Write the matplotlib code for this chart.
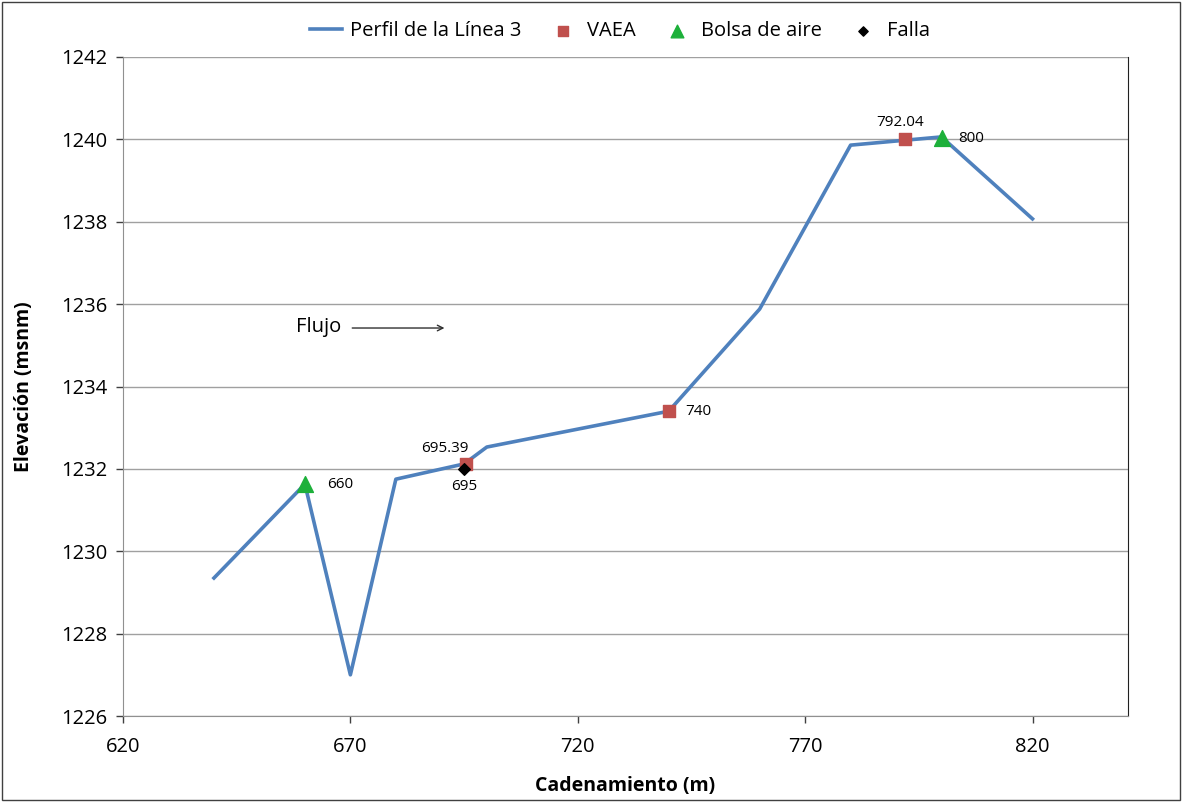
import matplotlib
matplotlib.use("Agg")
import matplotlib.pyplot as plt
from matplotlib import font_manager

# Data
perfil_x = [640, 660, 670, 680, 695, 700, 740, 760, 780, 800, 820]
perfil_y = [1229.35, 1231.63, 1227.0, 1231.75, 1232.12, 1232.53, 1233.4, 1235.88, 1239.86, 1240.06, 1238.07]
vaea_x = [695.39, 740, 792.04]
vaea_y = [1232.12, 1233.4, 1240.0]
bolsa_x = [660, 800]
bolsa_y = [1231.63, 1240.03]
falla_x = [695]
falla_y = [1232.0]
x_ticks = [620, 670, 720, 770, 820]
y_ticks = [1226, 1228, 1230, 1232, 1234, 1236, 1238, 1240, 1242]

names = {f.name for f in font_manager.fontManager.ttflist}
fam = ['Liberation Sans Narrow', 'DejaVu Sans'] if 'Liberation Sans Narrow' in names else ['Open Sans', 'DejaVu Sans']
plt.rcParams['font.family'] = fam

fig = plt.figure(figsize=(11.82, 8.02), dpi=100)
ax = fig.add_axes([123/1182, 1-716/802, (1128-123)/1182, (716-57)/802])

ax.plot(perfil_x, perfil_y, color='#4F81BD', lw=2.6, label='Perfil de la Línea 3', zorder=3)
ax.scatter(vaea_x, vaea_y, marker='s', s=70, color='#C0504D', label='VAEA', zorder=4)
ax.scatter(bolsa_x, bolsa_y, marker='^', s=130, color='#1DB03A', label='Bolsa de aire', zorder=5)
ax.scatter(falla_x, falla_y, marker='D', s=35, color='black', label='Falla', zorder=6)

ax.set_xlim(620, 841)
ax.set_ylim(1226, 1242)
ax.set_xticks(x_ticks)
ax.set_yticks(y_ticks)
ax.tick_params(axis='both', labelsize=14.5, colors='#404040', length=5, width=1, direction='out', pad=6)
ax.tick_params(axis='x', pad=10)
ax.tick_params(axis='both', labelcolor='black')
ax.grid(axis='y', color='#A0A0A0', lw=1)
ax.set_axisbelow(True)
ax.spines['top'].set_visible(False)
ax.spines['left'].set_color('#909090')
ax.spines['bottom'].set_color('#909090')
ax.spines['right'].set_color('#202020')

ax.set_xlabel('Cadenamiento (m)', fontsize=14, fontweight='bold', labelpad=14)
ax.set_ylabel('Elevación (msnm)', fontsize=14, fontweight='bold', labelpad=20)

afs = 11
ax.annotate('660', (660, 1231.63), xytext=(16, 0), textcoords='offset points', fontsize=afs, va='center', ha='left')
ax.annotate('695.39', (695.39, 1232.12), xytext=(-15, 11), textcoords='offset points', fontsize=afs, va='center', ha='center')
ax.annotate('695', (695, 1232.0), xytext=(0, -13), textcoords='offset points', fontsize=afs, va='center', ha='center')
ax.annotate('740', (740, 1233.4), xytext=(12, 0), textcoords='offset points', fontsize=afs, va='center', ha='left')
ax.annotate('792.04', (792.04, 1240.0), xytext=(-4, 12), textcoords='offset points', fontsize=afs, va='center', ha='center')
ax.annotate('800', (800, 1240.03), xytext=(12, 0), textcoords='offset points', fontsize=afs, va='center', ha='left')

ax.text(658, 1235.45, 'Flujo', fontsize=14.5, va='center', ha='left')
ax.annotate('', xy=(691.3, 1235.42), xytext=(669.8, 1235.42),
            arrowprops=dict(arrowstyle='->', color='#303030', lw=1))

leg = fig.legend(loc='center', bbox_to_anchor=(620/1182, 1-31/802), ncol=4, frameon=False,
                 fontsize=14.5, handlelength=1.6, columnspacing=1.25, handletextpad=0.4,
                 markerscale=0.8)

border = plt.Rectangle((0.002, 0.002), 0.996, 0.996, transform=fig.transFigure,
                       fill=False, edgecolor='#404040', lw=1)
fig.patches.append(border)

fig.savefig('out.png', dpi=100)
